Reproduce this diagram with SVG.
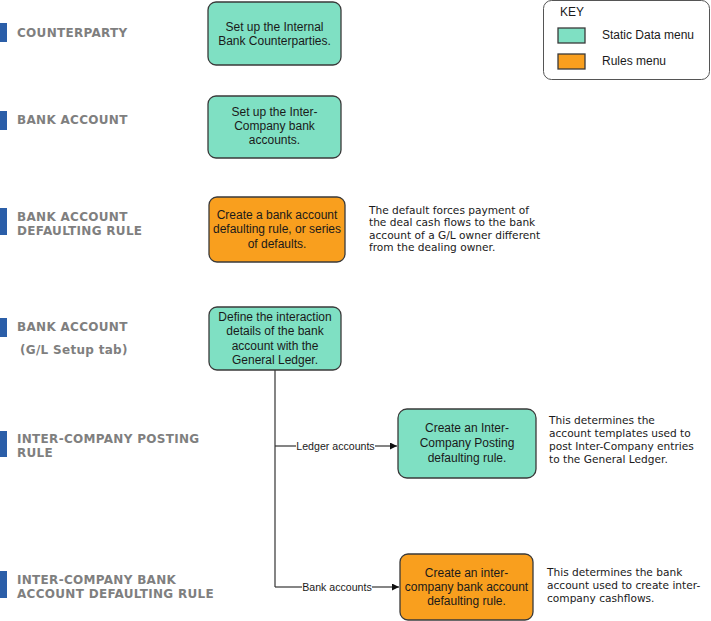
<svg xmlns="http://www.w3.org/2000/svg" width="711" height="621" viewBox="0 0 711 621">
<style>
.bg{fill:#ffffff}
.node{stroke:#3a3a3a;stroke-width:1.3}
.teal{fill:#7fe0c3}
.orange{fill:#f99f1e}
.bt{font-family:"Liberation Sans",Arial,sans-serif;font-size:12px;fill:#1a1a1a;text-anchor:middle}
.hd{font-family:"DejaVu Sans",Verdana,sans-serif;font-size:12px;font-weight:bold;fill:#7f7f7f;letter-spacing:0.3px}
.bar{fill:#2b5ea8}
.note{font-family:"DejaVu Sans",Verdana,sans-serif;font-size:10.6px;fill:#1a1a1a}
.lbl{font-family:"Liberation Sans",Arial,sans-serif;font-size:10.6px;fill:#1a1a1a;text-anchor:middle}
.ln{fill:none;stroke:#333333;stroke-width:1.2}
.key{fill:#ffffff;stroke:#555555;stroke-width:1}
.kt{font-family:"Liberation Sans",Arial,sans-serif;font-size:12px;fill:#1a1a1a}
</style>
<defs>
<marker id="arr" viewBox="0 0 10 10" refX="10" refY="5" markerWidth="8" markerHeight="7" markerUnits="userSpaceOnUse" orient="auto">
<path d="M0,0 L10,5 L0,10 z" fill="#111111"/>
</marker>
</defs>
<rect class="bg" x="0" y="0" width="711" height="621"/>

<g id="headings">
<rect class="bar" x="0" y="23" width="7" height="19"/>
<text class="hd" x="17" y="36.5">COUNTERPARTY</text>
<rect class="bar" x="0" y="111" width="7" height="19"/>
<text class="hd" x="17" y="124">BANK ACCOUNT</text>
<rect class="bar" x="0" y="208" width="7" height="27"/>
<text class="hd" x="17" y="220.5">BANK ACCOUNT</text>
<text class="hd" x="17" y="234.5">DEFAULTING RULE</text>
<rect class="bar" x="0" y="318" width="7" height="19"/>
<text class="hd" x="17" y="331">BANK ACCOUNT</text>
<text class="hd" x="20" y="353.5">(G/L Setup tab)</text>
<rect class="bar" x="0" y="431" width="7" height="26"/>
<text class="hd" x="17" y="442.5">INTER-COMPANY POSTING</text>
<text class="hd" x="17" y="456.5">RULE</text>
<rect class="bar" x="0" y="571" width="7" height="27"/>
<text class="hd" x="17" y="583.5">INTER-COMPANY BANK</text>
<text class="hd" x="17" y="597.5">ACCOUNT DEFAULTING RULE</text>
</g>

<g id="connectors">
<path class="ln" d="M275,370 V587"/>
<path class="ln" d="M275,446 H296"/>
<path class="ln" d="M375,446 H397" marker-end="url(#arr)"/>
<text class="lbl" x="335.5" y="450">Ledger accounts</text>
<path class="ln" d="M275,587 H302"/>
<path class="ln" d="M372,587 H399" marker-end="url(#arr)"/>
<text class="lbl" x="337" y="591">Bank accounts</text>
</g>

<g id="n1">
<rect class="node teal" x="208" y="2" width="133" height="63" rx="8"/>
<text class="bt" x="274.5" y="30.5">Set up the Internal</text>
<text class="bt" x="274.5" y="44.5">Bank Counterparties.</text>
</g>
<g id="n2">
<rect class="node teal" x="208" y="96" width="133" height="62" rx="8"/>
<text class="bt" x="274.5" y="116">Set up the Inter-</text>
<text class="bt" x="274.5" y="130">Company bank</text>
<text class="bt" x="274.5" y="144">accounts.</text>
</g>
<g id="n3">
<rect class="node orange" x="209" y="197" width="136" height="65" rx="8"/>
<text class="bt" x="277" y="218.5">Create a bank account</text>
<text class="bt" x="277" y="233">defaulting rule, or series</text>
<text class="bt" x="277" y="247.5">of defaults.</text>
</g>
<g id="n3note">
<text class="note" x="369" y="213.5">The default forces payment of</text>
<text class="note" x="369" y="226">the deal cash flows to the bank</text>
<text class="note" x="369" y="238.5">account of a G/L owner different</text>
<text class="note" x="369" y="251">from the dealing owner.</text>
</g>
<g id="n4">
<rect class="node teal" x="209" y="307" width="132" height="63" rx="8"/>
<text class="bt" x="275" y="320.5">Define the interaction</text>
<text class="bt" x="275" y="335">details of the bank</text>
<text class="bt" x="275" y="349.5">account with the</text>
<text class="bt" x="275" y="364">General Ledger.</text>
</g>
<g id="n5">
<rect class="node teal" x="398" y="409" width="138" height="69" rx="9"/>
<text class="bt" x="467" y="432">Create an Inter-</text>
<text class="bt" x="467" y="447">Company Posting</text>
<text class="bt" x="467" y="461.5">defaulting rule.</text>
</g>
<g id="n5note">
<text class="note" x="549" y="424">This determines the</text>
<text class="note" x="549" y="437">account templates used to</text>
<text class="note" x="549" y="450">post Inter-Company entries</text>
<text class="note" x="549" y="463">to the General Ledger.</text>
</g>
<g id="n6">
<rect class="node orange" x="400" y="554" width="133" height="66" rx="8"/>
<text class="bt" x="466.5" y="576.5">Create an inter-</text>
<text class="bt" x="466.5" y="590.5">company bank account</text>
<text class="bt" x="466.5" y="604.5">defaulting rule.</text>
</g>
<g id="n6note">
<text class="note" x="547" y="576">This determines the bank</text>
<text class="note" x="547" y="589">account used to create inter-</text>
<text class="note" x="547" y="602">company cashflows.</text>
</g>

<g id="key">
<rect class="key" x="543.5" y="0.5" width="166" height="79" rx="8"/>
<text class="kt" x="560" y="16">KEY</text>
<rect class="node teal" x="558" y="28" width="27" height="15" stroke-width="1"/>
<text class="kt" x="602" y="38.5">Static Data menu</text>
<rect class="node orange" x="558" y="54" width="27" height="15" stroke-width="1"/>
<text class="kt" x="602" y="65">Rules menu</text>
</g>
</svg>
